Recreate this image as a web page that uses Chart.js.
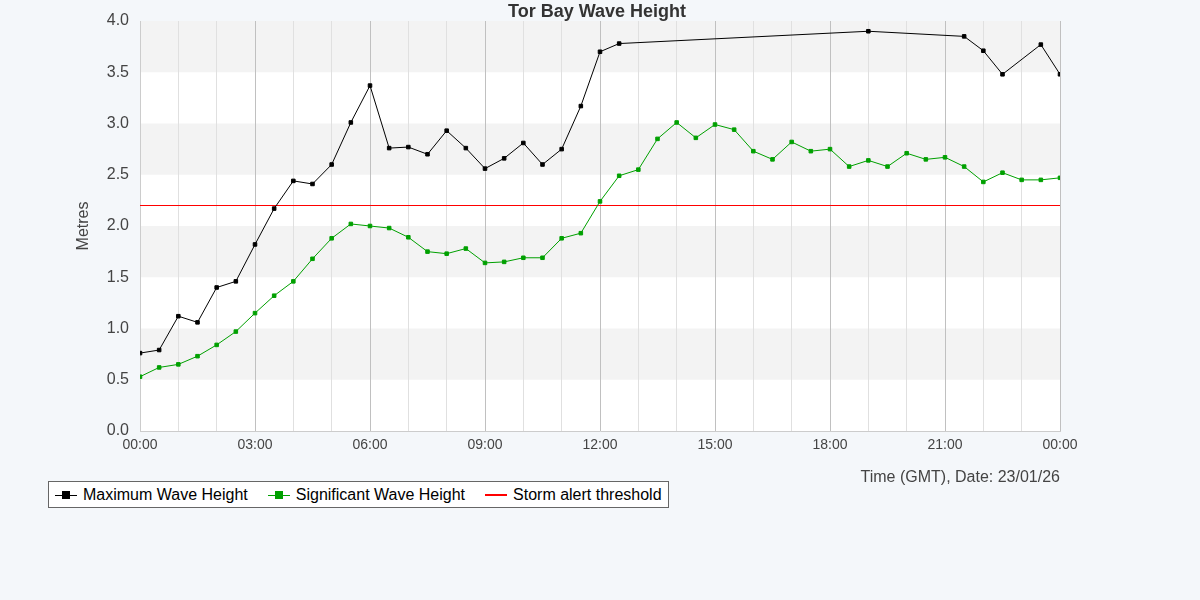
<!DOCTYPE html>
<html><head><meta charset="utf-8">
<script src="https://cdn.jsdelivr.net/npm/chart.js@4/dist/chart.umd.min.js"></script>
<style>
body{margin:0;background:#f4f7fa;font-family:"Liberation Sans",Arial,sans-serif}
#wrap{position:relative;width:1200px;height:600px}
#title{position:absolute;left:0;width:1194px;top:1px;text-align:center;font-size:18px;font-weight:bold;color:#333}
#legend{position:absolute;left:48px;top:481px;height:25px;border:1px solid #666;background:#fff;display:flex;align-items:center;font-size:16px;color:#000;padding:0 6px 0 6px}
.it{display:flex;align-items:center;margin-right:20px}
.it:last-child{margin-right:0}
.mk{position:relative;width:22px;height:14px;margin-right:6px}
.mk .l{position:absolute;left:0;right:0;top:7px;height:1px}
.mk .s{position:absolute;left:7px;top:3px;width:8px;height:8px}
</style></head><body>
<div id="wrap"><canvas id="c" width="1200" height="600"></canvas>
<div id="title">Tor Bay Wave Height</div>
<div id="legend">
<div class="it"><div class="mk"><div class="l" style="background:#000"></div><div class="s" style="background:#000"></div></div>Maximum Wave Height</div>
<div class="it"><div class="mk"><div class="l" style="background:#00a000"></div><div class="s" style="background:#00a000"></div></div>Significant Wave Height</div>
<div class="it"><div class="mk"><div class="l" style="background:#ff0000;height:2px;top:6px"></div></div>Storm alert threshold</div>
</div></div>
<script>
const maxHours=[0,0.5,1,1.5,2,2.5,3,3.5,4,4.5,5,5.5,6,6.5,7,7.5,8,8.5,9,9.5,10,10.5,11,11.5,12,12.5,19,21.5,22,22.5,23.5,24];
const maxValues=[0.76,0.79,1.12,1.06,1.40,1.46,1.82,2.17,2.44,2.41,2.60,3.01,3.37,2.76,2.77,2.70,2.93,2.76,2.56,2.66,2.81,2.60,2.75,3.17,3.70,3.78,3.90,3.85,3.71,3.48,3.77,3.48];
const sigHours=[0,0.5,1,1.5,2,2.5,3,3.5,4,4.5,5,5.5,6,6.5,7,7.5,8,8.5,9,9.5,10,10.5,11,11.5,12,12.5,13,13.5,14,14.5,15,15.5,16,16.5,17,17.5,18,18.5,19,19.5,20,20.5,21,21.5,22,22.5,23,23.5,24];
const sigValues=[0.53,0.62,0.65,0.73,0.84,0.97,1.15,1.32,1.46,1.68,1.88,2.02,2.00,1.98,1.89,1.75,1.73,1.78,1.64,1.65,1.69,1.69,1.88,1.93,2.24,2.49,2.55,2.85,3.01,2.86,2.99,2.94,2.73,2.65,2.82,2.73,2.75,2.58,2.64,2.58,2.71,2.65,2.67,2.58,2.43,2.52,2.45,2.45,2.47];
const threshold=2.2;
const xTickLabels=['00:00','03:00','06:00','09:00','12:00','15:00','18:00','21:00','00:00'];
const bands={id:'bands',beforeDraw(ch){const {ctx,chartArea:a,scales:{y}}=ch;ctx.save();
ctx.fillStyle='#fff';ctx.fillRect(a.left,a.top,a.right-a.left,a.bottom-a.top);
ctx.fillStyle='#f3f3f3';
for(let v=0.5;v<4;v+=1){const t=y.getPixelForValue(v+0.5),b=y.getPixelForValue(v);ctx.fillRect(a.left,t,a.right-a.left,b-t);}
ctx.restore();}};
const pts=(h,v)=>h.map((x,i)=>({x,y:v[i]}));
new Chart(document.getElementById('c'),{type:'line',
data:{datasets:[
{data:pts(maxHours,maxValues),borderColor:'#000',backgroundColor:'#000',borderWidth:1,pointStyle:'rect',pointRadius:2.5,tension:0},
{data:pts(sigHours,sigValues),borderColor:'#00a000',backgroundColor:'#00a000',borderWidth:1,pointStyle:'rect',pointRadius:2.5,tension:0},
{data:[{x:0,y:threshold},{x:24,y:threshold}],borderColor:'#f00',borderWidth:1,pointRadius:0}
]},
options:{responsive:false,animation:false,
layout:{padding:{right:140,left:70,top:21,bottom:109}},
plugins:{legend:{display:false},tooltip:{enabled:false},title:{display:false}},
scales:{
x:{type:'linear',min:0,max:24,border:{color:'#ccc'},
ticks:{stepSize:1,autoSkip:false,maxRotation:0,padding:6,color:'#444',font:{size:14,family:'Liberation Sans'},callback:v=>v%3===0?xTickLabels[v/3]:''},
grid:{color:c=>c.tick&&c.tick.value%3===0?'#c0c0c0':'#e0e0e0',drawTicks:false},
title:{display:true,text:'Time (GMT), Date: 23/01/26',align:'end',color:'#444',font:{size:16,family:'Liberation Sans'},padding:{top:8}}},
y:{min:0,max:4,afterFit(s){s.width=70;},border:{color:'#ccc'},
ticks:{stepSize:0.5,color:'#444',font:{size:16,family:'Liberation Sans'},callback:v=>v.toFixed(1)},
grid:{display:false},
title:{display:true,text:'Metres',color:'#444',font:{size:16,family:'Liberation Sans'}}}
}},plugins:[bands]});
</script></body></html>
